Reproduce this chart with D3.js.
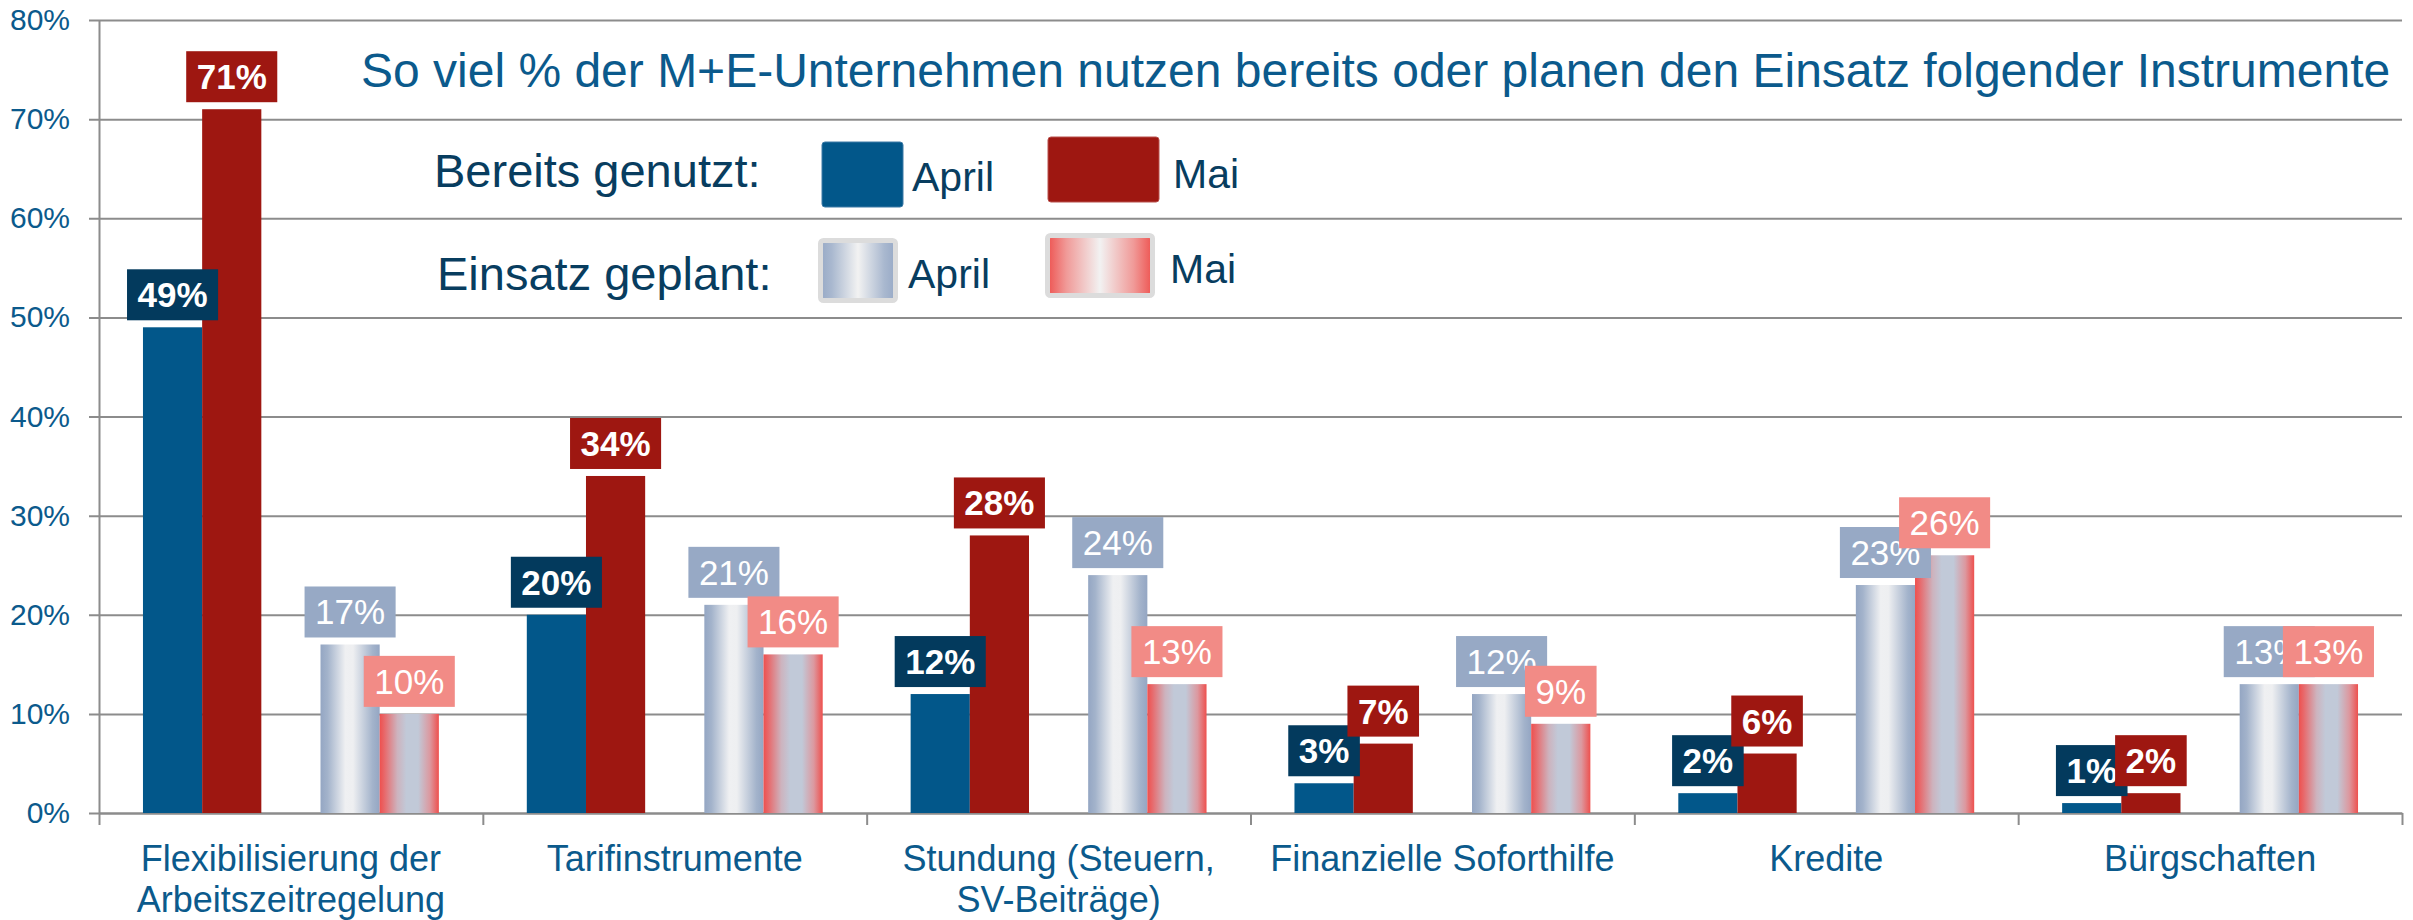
<!DOCTYPE html>
<html>
<head>
<meta charset="utf-8">
<script src="https://cdn.jsdelivr.net/npm/d3@7"></script>
<style>
  html, body { margin: 0; padding: 0; background: #fff; }
  svg { display: block; font-family: "Liberation Sans", Arial, sans-serif; }
</style>
</head>
<body>
<svg id="chart" width="2413" height="920"></svg>
<script>
// ── DATA ────────────────────────────────────────────────────────────────
const categories = [
  "Flexibilisierung der\nArbeitszeitregelung",
  "Tarifinstrumente",
  "Stundung (Steuern,\nSV-Beiträge)",
  "Finanzielle Soforthilfe",
  "Kredite",
  "Bürgschaften"
];
const usedApril    = [49, 20, 12, 3, 2, 1];
const usedMai      = [71, 34, 28, 7, 6, 2];
const plannedApril = [17, 21, 24, 12, 23, 13];
const plannedMai   = [10, 16, 13, 9, 26, 13];
const yTicks = [0, 10, 20, 30, 40, 50, 60, 70, 80];

const title = "So viel % der M+E-Unternehmen nutzen bereits oder planen den Einsatz folgender Instrumente";

// ── SETUP ───────────────────────────────────────────────────────────────
const series = [
  { key: 'usedApril',    values: usedApril,    fill: '#02578a',               box: '#033a5d', bold: true  },
  { key: 'usedMai',      values: usedMai,      fill: '#9e1711',               box: '#9e1711', bold: true  },
  { key: 'plannedApril', values: plannedApril, fill: 'url(#gPlanApril)',      box: '#97a9c5', bold: false },
  { key: 'plannedMai',   values: plannedMai,   fill: 'url(#gPlanMai)',        box: '#f28b86', bold: false }
];
// middle slot stays empty (gap between the two groups)
const slots = ['usedApril', 'usedMai', 'spacer', 'plannedApril', 'plannedMai'];

const L = 99, R = 2402, T = 20, B = 813;
const svg = d3.select('#chart');
svg.append('rect').attr('width', 2413).attr('height', 920).attr('fill', '#fff');

const x0 = d3.scaleBand().domain(categories).range([L, R]).padding(0);
const x1 = d3.scaleBand().domain(slots).range([0, x0.bandwidth()])
  .paddingInner(0).paddingOuter(0.743);
const y = d3.scaleLinear().domain([0, 80]).range([B, T]);
const xb = d3.scaleLinear().domain([0, categories.length]).range([L, R]);

// gradients
const defs = svg.append('defs');
function grad(id, stops) {
  const g = defs.append('linearGradient').attr('id', id)
    .attr('x1', 0).attr('x2', 1).attr('y1', 0).attr('y2', 0);
  stops.forEach(s => g.append('stop').attr('offset', s[0]).attr('stop-color', s[1]));
}
grad('gPlanApril', [[0, '#94a6c3'], [0.12, '#a3b3cb'], [0.42, '#eff0f2'], [0.55, '#eeeff1'], [0.88, '#a3b3cb'], [1, '#94a6c3']]);
grad('gPlanMai',   [[0, '#ee504e'], [0.08, '#e8686a'], [0.3, '#cdb3be'], [0.45, '#c1c9d8'], [0.65, '#c1c9d8'], [0.85, '#dc989f'], [1, '#ee504e']]);
grad('gLegApril',  [[0, '#97a9c6'], [0.15, '#a9b8cf'], [0.5, '#f2f2f2'], [0.85, '#a9b8cf'], [1, '#97a9c6']]);
grad('gLegMai',    [[0, '#ee5350'], [0.18, '#f09a98'], [0.5, '#f2f2f2'], [0.82, '#f09a98'], [1, '#ee5350']]);

// ── AXES / GRID ─────────────────────────────────────────────────────────
const yAxis = svg.append('g').attr('transform', `translate(${L},0)`)
  .call(d3.axisLeft(y).tickValues(yTicks).tickSizeInner(10).tickSizeOuter(0)
    .tickPadding(19).tickFormat(d => d + '%'));
yAxis.select('.domain').attr('stroke', '#8c8c8c').attr('stroke-width', 2);
yAxis.selectAll('.tick line').attr('x1', -10).attr('x2', R - L)
  .attr('stroke', '#8c8c8c').attr('stroke-width', 2);
yAxis.selectAll('.tick text').attr('fill', '#0b5a8c')
  .attr('font-size', 30).attr('font-family', '"Liberation Sans", Arial, sans-serif');

const xAxis = svg.append('g').attr('transform', `translate(0,${B})`)
  .call(d3.axisBottom(xb).tickValues(d3.range(categories.length + 1))
    .tickSizeInner(12).tickSizeOuter(0).tickFormat(''));
xAxis.select('.domain').attr('stroke', '#8c8c8c').attr('stroke-width', 2);
xAxis.selectAll('.tick line').attr('stroke', '#8c8c8c').attr('stroke-width', 2);

// category labels
const catLbl = svg.append('g').selectAll('text').data(categories).enter().append('text')
  .attr('text-anchor', 'middle').attr('fill', '#0b5a8c').attr('font-size', 36)
  .attr('transform', d => `translate(${x0(d) + x0.bandwidth() / 2},871)`);
catLbl.each(function (d) {
  d.split('\n').forEach((line, i) => {
    d3.select(this).append('tspan').attr('x', 0).attr('y', i * 41).text(line);
  });
});

// ── BARS ────────────────────────────────────────────────────────────────
const cats = svg.append('g').selectAll('g').data(categories).enter().append('g')
  .attr('transform', d => `translate(${x0(d)},0)`);

series.forEach(s => {
  cats.append('rect')
    .attr('x', x1(s.key)).attr('width', x1.bandwidth())
    .attr('y', (d, i) => y(s.values[i]))
    .attr('height', (d, i) => B - y(s.values[i]))
    .attr('fill', s.fill);
});

// value labels (boxes) — drawn after all bars, in series order
series.forEach(s => {
  const g = cats.append('g')
    .attr('transform', (d, i) => `translate(${x1(s.key) + x1.bandwidth() / 2},${y(s.values[i]) - 7})`);
  const box = g.append('rect').attr('fill', s.box);
  const txt = g.append('text')
    .attr('text-anchor', 'middle').attr('y', -13)
    .attr('fill', '#fff').attr('font-size', 35)
    .attr('font-weight', s.bold ? 'bold' : 'normal')
    .text((d, i) => s.values[i] + '%');
  txt.each(function () {
    const w = this.getComputedTextLength() + 21;
    d3.select(this.parentNode).select('rect')
      .attr('x', -w / 2).attr('width', w).attr('y', -51).attr('height', 51);
  });
});

// ── TITLE & LEGEND ──────────────────────────────────────────────────────
svg.append('text').attr('x', 361).attr('y', 87)
  .attr('fill', '#0b5a8c').attr('font-size', 48).text(title);

const lg = svg.append('g');
lg.append('text').attr('x', 434).attr('y', 187).attr('fill', '#083d5f')
  .attr('font-size', 47).text('Bereits genutzt:');
lg.append('text').attr('x', 437).attr('y', 290).attr('fill', '#083d5f')
  .attr('font-size', 47).text('Einsatz geplant:');

lg.append('rect').attr('x', 822).attr('y', 142).attr('width', 81).attr('height', 65)
  .attr('rx', 3).attr('fill', '#02578a').attr('stroke', '#3c7aa6').attr('stroke-width', 1);
lg.append('rect').attr('x', 1048).attr('y', 137).attr('width', 111).attr('height', 65)
  .attr('rx', 3).attr('fill', '#9e1711').attr('stroke', '#b8504c').attr('stroke-width', 1);
lg.append('rect').attr('x', 820.5).attr('y', 240.5).attr('width', 75).attr('height', 60)
  .attr('rx', 3).attr('fill', 'url(#gLegApril)').attr('stroke', '#dcdcdc').attr('stroke-width', 5);
lg.append('rect').attr('x', 1047.5).attr('y', 235.5).attr('width', 105).attr('height', 60)
  .attr('rx', 3).attr('fill', 'url(#gLegMai)').attr('stroke', '#dcdcdc').attr('stroke-width', 5);

[['April', 912, 191], ['Mai', 1173, 188], ['April', 908, 288], ['Mai', 1170, 283]].forEach(t => {
  lg.append('text').attr('x', t[1]).attr('y', t[2]).attr('fill', '#083d5f')
    .attr('font-size', 41).text(t[0]);
});
</script>
</body>
</html>
